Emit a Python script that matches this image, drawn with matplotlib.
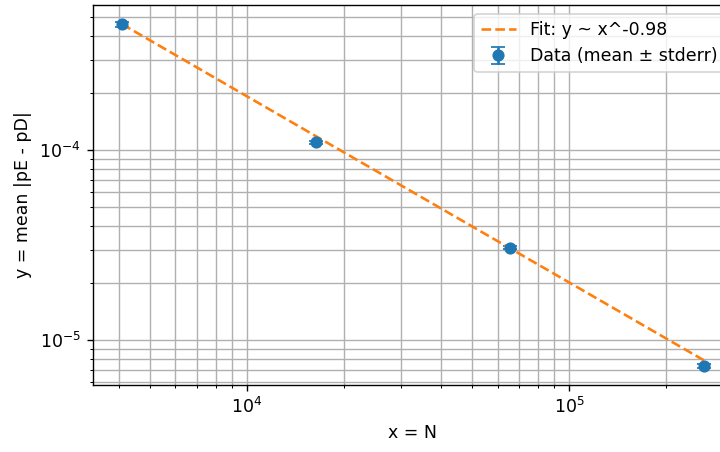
import numpy as np
import matplotlib
matplotlib.use('Agg')
import matplotlib.pyplot as plt

N = np.array([4096, 16384, 65536, 262144])
mean_err = np.array([4.6e-4, 1.10e-4, 3.07e-5, 7.3e-6])
stderr = np.array([1.2e-5, 2.5e-6, 6e-7, 1.5e-7])

fit_exp = -0.98
fit_coef = 1.6

fig = plt.figure(figsize=(5.76, 3.616), dpi=125)
ax = fig.add_axes([0.129, 0.148, 0.889, 0.841])

ax.errorbar(N, mean_err, yerr=stderr, fmt='o', capsize=4, label='Data (mean ± stderr)')
ax.plot(N, fit_coef * N ** fit_exp, '--', color='C1', label=f'Fit: y ~ x^{fit_exp:.2f}')

ax.set_xscale('log')
ax.set_yscale('log')
ax.set_xlabel('x = N')
ax.set_ylabel('y = mean |pE - pD|')
ax.grid(True, which='both')
ax.legend(loc='upper right')

fig.savefig('out.png')
